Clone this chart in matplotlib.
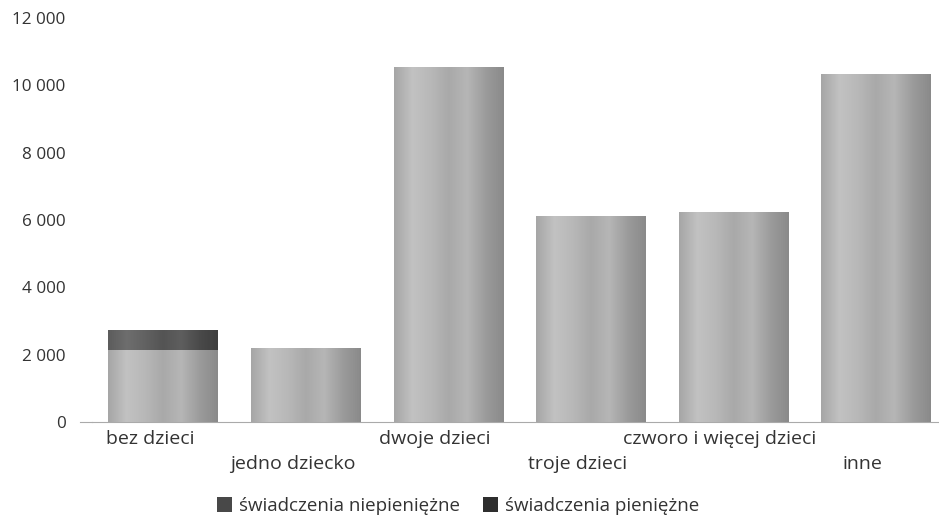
import matplotlib
matplotlib.use("Agg")
import matplotlib.pyplot as plt
import numpy as np
from matplotlib.colors import LinearSegmentedColormap
from matplotlib.patches import Patch

plt.rcParams['font.family'] = ['Open Sans', 'DejaVu Sans']

categories = ["bez dzieci", "jedno dziecko", "dwoje dzieci", "troje dzieci",
              "czworo i więcej dzieci", "inne"]
niepieniezne = [2150, 2200, 10530, 6110, 6230, 10330]
pieniezne = [580, 0, 0, 0, 0, 0]
yticks = [0, 2000, 4000, 6000, 8000, 10000, 12000]
ytick_labels = ["0", "2 000", "4 000", "6 000", "8 000", "10 000", "12 000"]
series_labels = ["świadczenia niepieniężne", "świadczenia pieniężne"]

fig = plt.figure(figsize=(9.39, 5.19), dpi=100)
ax = fig.add_axes([92/939, 1-422/519, (939-92)/939, (422-18)/519])

x = np.arange(len(categories))
w = 0.77
b1 = ax.bar(x, niepieniezne, width=w, color="#b4b4b4", zorder=2)
b2 = ax.bar(x, pieniezne, width=w, bottom=niepieniezne, color="#5a5a5a", zorder=2)

light = LinearSegmentedColormap.from_list("l", ["#a6a6a6", "#c2c2c2", "#b8b8b8", "#a9a9a9", "#b6b6b6", "#9c9c9c", "#8a8a8a"])
dark = LinearSegmentedColormap.from_list("d", ["#5c5c5c", "#6e6e6e", "#626262", "#545454", "#5e5e5e", "#4a4a4a", "#3e3e3e"])
grad = np.linspace(0, 1, 200).reshape(1, -1)
for bars, cmap in ((b1, light), (b2, dark)):
    for p in bars:
        if p.get_height() <= 0:
            continue
        x0, y0 = p.get_x(), p.get_y()
        im = ax.imshow(grad, cmap=cmap, aspect="auto", zorder=3,
                       extent=[x0, x0 + p.get_width(), y0, y0 + p.get_height()])
        im.set_clip_path(p)

ax.set_xlim(-0.5, 5.44)
ax.set_ylim(0, 12000)
ax.set_yticks(yticks)
ax.set_yticklabels(ytick_labels, color="#333333", fontsize=12.3)
ax.tick_params(axis="y", length=0, pad=19)
ax.set_xticks([])
for s in ["top", "right", "left"]:
    ax.spines[s].set_visible(False)
ax.spines["bottom"].set_color("#aaaaaa")
ax.spines["bottom"].set_linewidth(0.8)
ax.plot([-0.585, -0.5], [0, 0], color="#aaaaaa", lw=0.8, clip_on=False)

for i, c in enumerate(categories):
    yoff = -0.043 if i % 2 == 0 else -0.105
    ax.text(i - 0.095, yoff, c, transform=ax.get_xaxis_transform(), ha="center",
            va="center", fontsize=14, color="#333333")

handles = [Patch(facecolor="#484848", edgecolor="none"),
           Patch(facecolor="#2e2e2e", edgecolor="none")]
fig.legend(handles, series_labels, loc="center", bbox_to_anchor=(458/939, 1-506/519),
           ncol=2, frameon=False, fontsize=13.5, handlelength=0.8, handleheight=0.8,
           handletextpad=0.4, columnspacing=1.2, labelcolor="#333333")

fig.savefig("out.png", dpi=100)
